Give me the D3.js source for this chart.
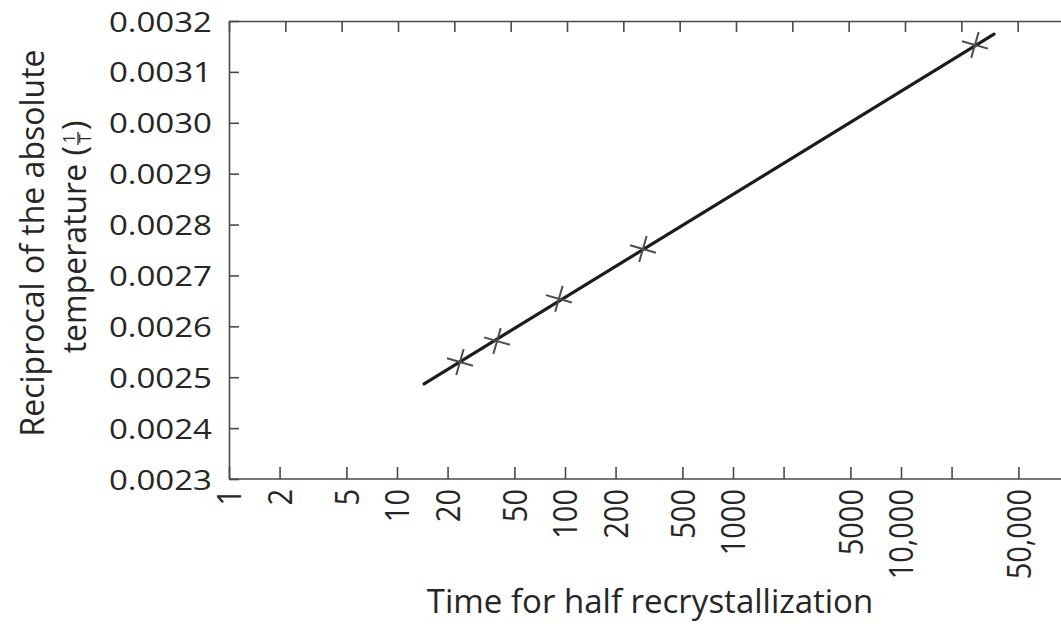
<!DOCTYPE html>
<html lang="en">
  <head>
    <meta charset="utf-8">
    <title>Half recrystallization</title>
    <script src="https://cdn.jsdelivr.net/npm/d3@7"></script>
    <style>
      body { margin: 0; background: #fff; }
      svg { display: block; }
      text { font-family: 'Open Sans', sans-serif; fill: #262626; }
    </style>
  </head>
  <body>
    <div id="chart"></div>

    <script>
      // measured points (time in s, 1/T in 1/K)
      let times = [23.7, 39.4, 92, 291, 27550]
      let recipT = [0.00253, 0.002571, 0.002654, 0.002752, 0.003153]
      // end points of the fitted line
      let fitTimes = [14.5, 35800]
      let fitRecipT = [0.002487, 0.003174]

      let xTicks = [1, 2, 5, 10, 20, 50, 100, 200, 500, 1000, 2000, 5000, 10000, 20000, 50000]
      let xTickLabels = ['1', '2', '5', '10', '20', '50', '100', '200', '500', '1000', '', '5000', '10,000', '', '50,000']
      let yTicks = [0.0023, 0.0024, 0.0025, 0.0026, 0.0027, 0.0028, 0.0029, 0.0030, 0.0031, 0.0032]
      let topTickCount = 15

      let width = 1061, height = 629
      let margin = {left: 229, right: 1074, top: 21, bottom: 479}

      let svg = d3.select('#chart').append('svg')
        .attr('width', width)
        .attr('height', height)

      let scale_x = d3.scaleLog()
        .domain([1, 1e5])
        .range([margin.left, margin.left + 5 * 168])
      let scale_y = d3.scaleLinear()
        .domain([0.0023, 0.0032])
        .range([margin.bottom, margin.top])
      // top border carries evenly spaced marks with no values
      let scale_top = d3.scaleLinear()
        .domain([0, topTickCount])
        .range([margin.left, margin.right])

      let axisColor = '#4a4a4a'
      function styleAxis(g) {
        g.select('.domain').attr('stroke', axisColor).attr('stroke-width', 1.6)
        g.selectAll('.tick line').attr('stroke', axisColor).attr('stroke-width', 1.6)
      }

      // bottom axis, ticks pointing into the plot
      let x_axis = d3.axisBottom(scale_x)
        .tickValues(xTicks)
        .tickSize(-12)
        .tickSizeOuter(0)
        .tickFormat((d, i) => xTickLabels[i])
      svg.append('g')
        .attr('transform', 'translate(0,' + margin.bottom + ')')
        .call(x_axis)
        .call(styleAxis)
        .call(g => g.select('.domain').attr('d', 'M' + margin.left + ',0H' + margin.right))
        .call(g => g.selectAll('.tick text')
          .attr('font-size', 29)
          .attr('text-anchor', 'end')
          .attr('x', -10)
          .attr('y', 0)
          .attr('dy', '0.36em')
          .attr('transform', 'scale(1.14,1) rotate(-90)'))

      let top_axis = d3.axisTop(scale_top)
        .ticks(topTickCount)
        .tickSize(-11)
        .tickSizeOuter(0)
        .tickFormat('')
      svg.append('g')
        .attr('transform', 'translate(0,' + margin.top + ')')
        .call(top_axis)
        .call(styleAxis)

      let y_axis = d3.axisLeft(scale_y)
        .tickValues(yTicks)
        .tickSize(-10)
        .tickSizeOuter(0)
        .tickFormat(d3.format('.4f'))
      svg.append('g')
        .attr('transform', 'translate(' + margin.left + ',0)')
        .call(y_axis)
        .call(styleAxis)
        .call(g => g.selectAll('.tick text')
          .attr('font-size', 28)
          .attr('x', 0)
          .attr('dy', '0.36em')
          .attr('transform', 'translate(-17,0) scale(1.18,1)'))

      let y_axis_right = d3.axisRight(scale_y)
        .tickValues(yTicks.slice(1, -1))
        .tickSize(-12)
        .tickSizeOuter(0)
        .tickFormat('')
      svg.append('g')
        .attr('transform', 'translate(' + margin.right + ',0)')
        .call(y_axis_right)
        .call(styleAxis)

      // fitted line
      let line = d3.line()
        .x((d, i) => scale_x(fitTimes[i]))
        .y(d => scale_y(d))
      svg.append('path')
        .attr('d', line(fitRecipT))
        .attr('fill', 'none')
        .attr('stroke', '#1c1c1c')
        .attr('stroke-width', 3.2)
        .attr('stroke-linecap', 'round')

      // star markers: a thin tilted cross
      let crossLines = {
        draw(context, size) {
          let r = Math.sqrt(size) / 2
          context.moveTo(-r, 0); context.lineTo(r, 0)
          context.moveTo(0, -r); context.lineTo(0, r)
        }
      }
      let star = d3.symbol().type(crossLines).size(27 * 27)
      svg.selectAll('path.star')
        .data(times)
        .enter()
        .append('path')
        .attr('class', 'star')
        .attr('d', star)
        .attr('transform', (d, i) => 'translate(' + scale_x(d) + ',' + scale_y(recipT[i]) + ') rotate(16)')
        .attr('fill', 'none')
        .attr('stroke', '#4d4d4d')
        .attr('stroke-width', 2)

      // x title
      svg.append('text')
        .attr('x', 650)
        .attr('y', 613)
        .attr('text-anchor', 'middle')
        .attr('font-size', 33)
        .text('Time for half recrystallization')

      // y title, two rotated lines
      let ytitle = svg.append('g')
        .attr('transform', 'translate(0,243) rotate(-90)')
      ytitle.append('text')
        .attr('x', 0)
        .attr('y', 44)
        .attr('text-anchor', 'middle')
        .attr('font-size', 32)
        .text('Reciprocal of the absolute')

      let line2 = ytitle.append('g')
      let main = line2.append('text')
        .attr('y', 86)
        .attr('font-size', 32)
        .text('temperature (')
      let w1 = main.node().getComputedTextLength()
      let fracW = 15
      line2.append('text')
        .attr('x', w1 + fracW / 2)
        .attr('y', 75)
        .attr('text-anchor', 'middle')
        .attr('font-size', 16)
        .text('1')
      line2.append('line')
        .attr('x1', w1 + 1)
        .attr('x2', w1 + fracW - 1)
        .attr('y1', 78)
        .attr('y2', 78)
        .attr('stroke', '#262626')
        .attr('stroke-width', 1.3)
      line2.append('text')
        .attr('x', w1 + fracW / 2)
        .attr('y', 91)
        .attr('text-anchor', 'middle')
        .attr('font-size', 16)
        .text('T')
      let close = line2.append('text')
        .attr('x', w1 + fracW + 1)
        .attr('y', 86)
        .attr('font-size', 32)
        .text(')')
      let total = w1 + fracW + 1 + close.node().getComputedTextLength()
      line2.attr('transform', 'translate(' + (6 - total / 2) + ',0)')
    </script>
  </body>
</html>
